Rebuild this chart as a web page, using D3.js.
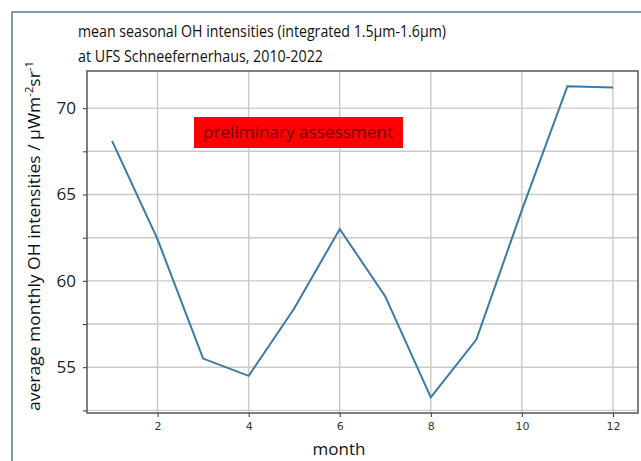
<!DOCTYPE html>
<html>
<head>
<meta charset="utf-8">
<script src="https://cdn.jsdelivr.net/npm/d3@7"></script>
<style>
  body { margin: 0; background: #fff; }
  svg { display: block; }
</style>
</head>
<body>
<svg id="chart" width="641" height="461"></svg>
<script>
// data
const months = [1, 2, 3, 4, 5, 6, 7, 8, 9, 10, 11, 12];
const intensities = [68.1, 62.4, 55.5, 54.5, 58.4, 63.0, 59.1, 53.25, 56.6, 64.1, 71.27, 71.2];
const xTicks = [2, 4, 6, 8, 10, 12];
const yTicks = [52.5, 55, 57.5, 60, 62.5, 65, 67.5, 70];
const yLabelled = [55, 60, 65, 70];
const titleLines = ["mean seasonal OH intensities (integrated 1.5µm-1.6µm)", "at UFS Schneefernerhaus, 2010-2022"];

const svg = d3.select("#chart");
const font = "'Open Sans', 'Noto Sans', sans-serif";

const plot = { left: 87, top: 71, right: 638, bottom: 413 };

// outer slide frame
svg.append("path")
  .attr("d", "M12,461 L12,12 L641,12")
  .attr("fill", "none")
  .attr("stroke", "#5b7894")
  .attr("stroke-width", 1.5);

const x = d3.scaleLinear().domain([0.45, 12.55]).range([plot.left, plot.right]);
const y = d3.scaleLinear().domain([52.35, 72.15]).range([plot.bottom, plot.top]);

// grid
const grid = svg.append("g").attr("stroke", "#c9c9c9").attr("stroke-width", 1.4);
grid.selectAll("line.gx").data(xTicks).join("line")
  .attr("x1", d => x(d)).attr("x2", d => x(d))
  .attr("y1", plot.top).attr("y2", plot.bottom);
grid.selectAll("line.gy").data(yTicks).join("line")
  .attr("x1", plot.left).attr("x2", plot.right)
  .attr("y1", d => y(d)).attr("y2", d => y(d));

// axes
const xAxis = svg.append("g")
  .attr("transform", `translate(0,${plot.bottom})`)
  .call(d3.axisBottom(x).tickValues(xTicks).tickSize(4).tickSizeOuter(0));
xAxis.select(".domain").remove();
xAxis.selectAll("line").attr("stroke", "#333");
xAxis.selectAll("text")
  .attr("font-family", "'DejaVu Sans', sans-serif")
  .attr("font-size", 11)
  .attr("fill", "#333")
  .attr("dy", "0.95em");

const yAxis = svg.append("g")
  .attr("transform", `translate(${plot.left},0)`)
  .call(d3.axisLeft(y).tickValues(yTicks).tickSize(4).tickSizeOuter(0)
    .tickFormat(d => yLabelled.includes(d) ? d3.format("d")(d) : ""));
yAxis.select(".domain").remove();
yAxis.selectAll("line").attr("stroke", "#333");
yAxis.selectAll("text")
  .attr("font-family", font)
  .attr("font-size", 17)
  .attr("fill", "#222")
  .attr("x", -11);

// frame
svg.append("rect")
  .attr("x", plot.left).attr("y", plot.top)
  .attr("width", plot.right - plot.left).attr("height", plot.bottom - plot.top)
  .attr("fill", "none")
  .attr("stroke", "#555")
  .attr("stroke-width", 1.5);

// line
const line = d3.line().x((d, i) => x(months[i])).y(d => y(d));
svg.append("path")
  .datum(intensities)
  .attr("d", line)
  .attr("fill", "none")
  .attr("stroke", "#3a7aa4")
  .attr("stroke-width", 2);

// label box
svg.append("rect")
  .attr("x", 194).attr("y", 117).attr("width", 209).attr("height", 31)
  .attr("fill", "#ff0000");
svg.append("text")
  .attr("x", 298).attr("y", 138)
  .attr("text-anchor", "middle")
  .attr("font-family", font)
  .attr("font-size", 17)
  .attr("fill", "#6a0000")
  .attr("textLength", 190)
  .attr("lengthAdjust", "spacingAndGlyphs")
  .text("preliminary assessment");

// title
svg.selectAll("text.title").data(titleLines).join("text")
  .attr("class", "title")
  .attr("x", 78)
  .attr("y", (d, i) => 37 + i * 25)
  .attr("font-family", font)
  .attr("font-size", 17)
  .attr("fill", "#111")
  .attr("textLength", (d, i) => i === 0 ? 368 : 245)
  .attr("lengthAdjust", "spacingAndGlyphs")
  .text(d => d);

// axis labels
const yl = svg.append("text")
  .attr("transform", "translate(40,236) rotate(-90)")
  .attr("text-anchor", "middle")
  .attr("font-family", font)
  .attr("font-size", 17)
  .attr("fill", "#111")
  .attr("textLength", 350)
  .attr("lengthAdjust", "spacingAndGlyphs");
yl.append("tspan").text("average monthly OH intensities / µWm");
yl.append("tspan").attr("baseline-shift", "super").attr("font-size", 11).text("-2");
yl.append("tspan").text("sr");
yl.append("tspan").attr("baseline-shift", "super").attr("font-size", 11).text("-1");

svg.append("text")
  .attr("x", 339).attr("y", 455)
  .attr("text-anchor", "middle")
  .attr("font-family", font)
  .attr("font-size", 17)
  .attr("fill", "#111")
  .text("month");
</script>
</body>
</html>
